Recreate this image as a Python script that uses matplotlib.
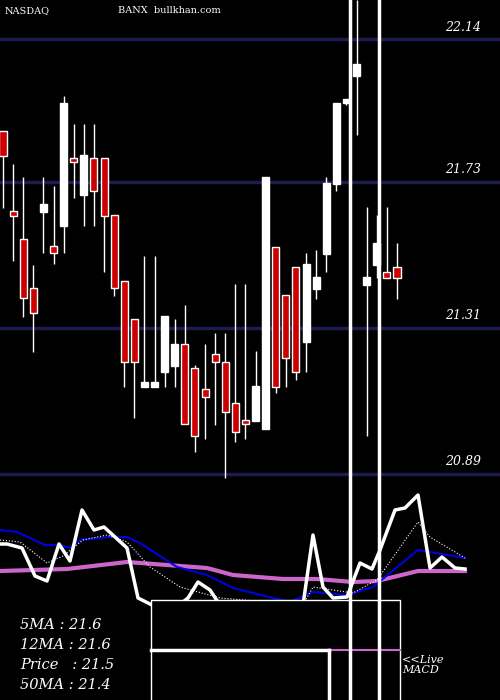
import matplotlib
matplotlib.use("Agg")
import matplotlib.pyplot as plt
from matplotlib.patches import Rectangle

# candles: open, high, low, close
opens = [21.875, 21.645, 21.565, 21.424, 21.642, 21.545, 21.602, 21.798, 21.691, 21.798,
         21.798, 21.634, 21.444, 21.335, 21.139, 21.139, 21.182, 21.200, 21.263, 21.194,
         21.133, 21.234, 21.211, 21.093, 21.044, 21.041, 21.018, 21.542, 21.404, 21.484,
         21.268, 21.421, 21.522, 21.723, 21.956, 22.034, 21.432, 21.490, 21.470, 21.484]
closes = [21.802, 21.631, 21.395, 21.352, 21.665, 21.524, 21.956, 21.786, 21.806, 21.703,
          21.631, 21.424, 21.211, 21.211, 21.153, 21.153, 21.343, 21.263, 21.032, 20.998,
          21.110, 21.211, 21.067, 21.009, 21.032, 21.142, 21.743, 21.139, 21.222, 21.182,
          21.493, 21.455, 21.726, 21.956, 21.967, 22.068, 21.455, 21.553, 21.452, 21.452]
highs = [21.875, 21.780, 21.743, 21.491, 21.743, 21.717, 21.976, 21.895, 21.895, 21.895,
         21.798, 21.634, 21.444, 21.335, 21.516, 21.516, 21.343, 21.335, 21.375, 21.202,
         21.263, 21.294, 21.294, 21.435, 21.435, 21.243, 21.743, 21.542, 21.404, 21.484,
         21.524, 21.533, 21.743, 21.956, 21.967, 22.252, 21.657, 21.634, 21.657, 21.553]
lows = [21.654, 21.501, 21.340, 21.240, 21.524, 21.493, 21.524, 21.683, 21.602, 21.602,
        21.470, 21.401, 21.139, 21.050, 21.139, 21.139, 21.139, 21.139, 21.050, 20.952,
        20.989, 21.030, 20.877, 20.981, 20.989, 21.041, 21.018, 21.122, 21.139, 21.159,
        21.182, 21.392, 21.470, 21.703, 21.950, 21.864, 20.998, 21.452, 21.452, 21.392]
grid_levels = [22.14, 21.73, 21.31, 20.89]

# indicator panel (pixel-like units)
price_x = [0, 7, 22, 35, 47, 59, 70, 82, 94, 104, 115, 127, 138, 152, 160, 188, 198, 210, 220,
           255, 303, 313, 323, 333, 347, 360, 372, 380, 395, 405, 418, 430, 442, 455, 465]
price_y = [64, 64, 68, 96, 101, 64, 81, 30, 50, 47, 57, 68, 118, 125, 140, 118, 102, 110, 125,
           125, 125, 55, 107, 118, 117, 83, 89, 70, 30, 28, 15, 88, 77, 88, 89]
ma5_x = [0, 20, 47, 63, 83, 107, 127, 150, 180, 220, 303, 313, 353, 377, 418, 430, 465]
ma5_y = [60, 62, 83, 76, 60, 55, 62, 87, 107, 118, 125, 107, 113, 100, 42, 57, 78]
ma12_x = [0, 17, 45, 60, 70, 80, 110, 127, 140, 177, 207, 233, 277, 290, 313, 347, 373, 418, 465]
ma12_y = [50, 52, 65, 65, 68, 60, 57, 57, 63, 87, 95, 108, 119, 122, 112, 115, 107, 70, 78]
ma50_x = [0, 67, 127, 207, 233, 283, 317, 353, 377, 418, 465]
ma50_y = [91, 89, 82, 88, 95, 99, 99, 102, 101, 91, 91]

fig = plt.figure(figsize=(5, 7), dpi=100, facecolor="black")

ax = fig.add_axes([0, 0.3, 1, 0.7])
ax.set_facecolor("black")
n = len(opens)
for i in range(n):
    up = closes[i] >= opens[i]
    col = "white" if up else "#cc0000"
    ax.vlines(i, lows[i], highs[i], color="white", lw=1, zorder=2)
    lo, hi = min(opens[i], closes[i]), max(opens[i], closes[i])
    ax.add_patch(Rectangle((i - 0.35, lo), 0.7, max(hi - lo, 0.012),
                           facecolor=col, edgecolor="white", lw=1, zorder=3))
for lev in grid_levels:
    ax.axhline(lev, color="#1c1c50", lw=2.5, zorder=1)
    ax.text(47.3, lev + 0.015, f"{lev:.2f}", color="white", ha="right", va="bottom",
            fontsize=9, family="DejaVu Serif", style="italic")
ax.set_xlim(-0.3, 49.2)
ax.set_ylim(20.843, 22.252)
ax.axis("off")
fig.text(0.01, 0.992, "NASDAQ", color="white", fontsize=7, family="DejaVu Serif", va="top")
fig.text(0.236, 0.992, "BANX  bullkhan.com", color="white", fontsize=7, family="DejaVu Serif", va="top")

ax2 = fig.add_axes([0, 0, 1, 220 / 700])
ax2.set_facecolor("black")
ax2.set_xlim(0, 500)
ax2.set_ylim(220, 0)
ax2.axis("off")
ax2.plot(ma50_x, ma50_y, color="#cc66cc", lw=3)
ax2.plot(ma12_x, ma12_y, color="#0000dd", lw=1.5)
ax2.plot(ma5_x, ma5_y, color="white", lw=0.8, ls=":")
ax2.plot(price_x, price_y, color="white", lw=2.5)
ax2.add_patch(Rectangle((151, 120), 249, 110, facecolor="black", edgecolor="white", lw=1, zorder=5))
ax2.plot([151, 329], [170, 170], color="white", lw=2.5, zorder=6)
ax2.plot([329, 400], [170, 170], color="#cc66cc", lw=1.5, zorder=6)
ax2.plot([329, 329], [170, 220], color="white", lw=2.5, zorder=6)
labels = ["5MA : 21.6", "12MA : 21.6", "Price   : 21.5", "50MA : 21.4"]
for k, t in enumerate(labels):
    ax2.text(20, 145 + k * 20, t, color="white", fontsize=10.5, family="DejaVu Serif",
             style="italic", va="center")
ax2.text(402, 185, "<<Live\nMACD", color="white", fontsize=8, family="DejaVu Serif",
         style="italic", va="center", linespacing=1.1)

# two tall spikes spanning the whole chart
for xv in [350, 379]:
    fig.add_artist(plt.Line2D([xv / 500, xv / 500], [0, 1], color="white", lw=2.5, zorder=10))

fig.savefig("out.png", dpi=100, facecolor="black")
